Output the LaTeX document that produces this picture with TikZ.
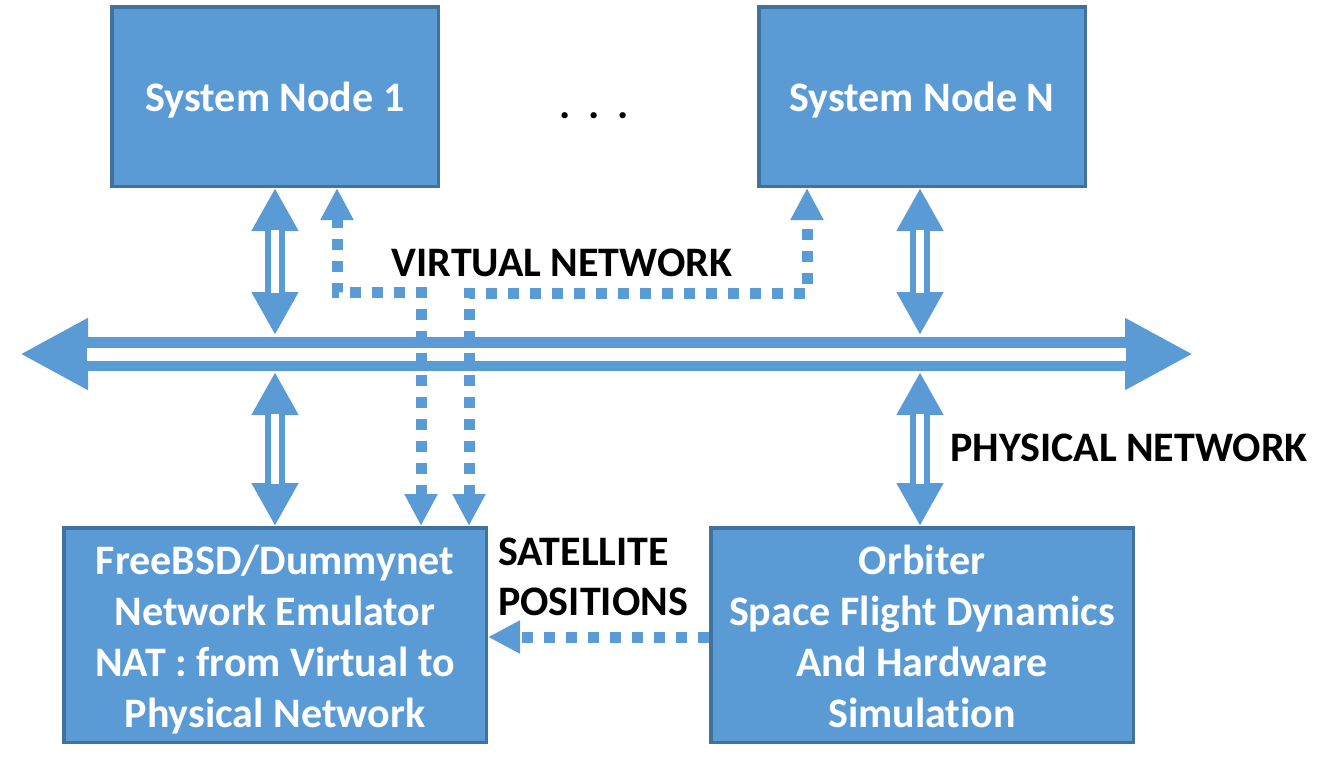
\documentclass[tikz,border=0pt]{standalone}
\usepackage{fontspec}
\setmainfont{Carlito}[Ligatures=NoCommon]
\usetikzlibrary{arrows.meta}
\definecolor{boxfill}{HTML}{5B9BD5}
\definecolor{boxline}{HTML}{41719C}
\newcommand{\boxtext}[2]{\raisebox{-#1}[\height][\depth]{\begin{tabular}{@{}c@{}}#2\end{tabular}}}
\begin{document}
\begin{tikzpicture}[x=1pt,y=-1pt,
  box/.style={draw=boxline, fill=boxfill, line width=3.5pt, text=white,
    font=\fontsize{42}{51}\selectfont\bfseries, align=center, inner sep=0pt},
  smallbox/.style={box, minimum width=326.5pt, minimum height=179.5pt},
  bigbox/.style={box, minimum width=422.5pt, minimum height=214.5pt},
  lbl/.style={font=\fontsize{42}{50}\selectfont\bfseries, text=black, inner sep=0pt},
  dbl/.style={draw=boxfill, line width=20pt,
    {Triangle[width=44pt,length=43pt]}-{Triangle[width=44pt,length=43pt]},
    postaction={draw=white, line width=8.6pt, arrows=-, shorten <=42pt, shorten >=42pt}},
  bus/.style={draw=boxfill, line width=34pt,
    {Triangle[width=67pt,length=68pt]}-{Triangle[width=67pt,length=68pt]},
    postaction={draw=white, line width=13pt, arrows=-, shorten <=67pt, shorten >=67pt}},
  dotted arrow/.style={draw=boxfill, line width=11pt, dash pattern=on 11pt off 11pt}
]
\useasboundingbox (0,0) rectangle (1321,756);

\node[smallbox] (sn1) at (275,96.5) {\boxtext{5pt}{System Node 1}};
\node[smallbox] (snN) at (922,96.5) {\boxtext{5pt}{System Node N}};
\node[bigbox] (fb) at (275,635) {\boxtext{6pt}{FreeBSD/Dummynet\\Network Emulator\\NAT : from Virtual to\\Physical Network}};
\node[bigbox] (orb) at (922,635) {\boxtext{6pt}{Orbiter\\Space Flight Dynamics\\And Hardware\\Simulation}};

\node[lbl] (dots) at (594,116) {.\hspace{0.42em}.\hspace{0.42em}.};

\coordinate (busL) at (20,354);
\coordinate (busR) at (1193,354);
\draw[bus] (busL) -- (busR);

\coordinate (bt) at (0,335);
\coordinate (bb) at (0,372);
\draw[dbl] (sn1.south) -- (sn1.south |- bt);
\draw[dbl] (sn1.south |- bb) -- (fb.north);
\draw[dbl] (snN.south -| 920,0) -- (920,0 |- bt);
\draw[dbl] (920,0 |- bb) -- (orb.north -| 920,0);

\draw[dotted arrow, {Triangle[width=31pt,length=32pt]}-{Triangle[width=31pt,length=32pt]}]
  (421,0 |- fb.north) -- (421,292) -- (337,292) -- (337,0 |- sn1.south);
\draw[dotted arrow, {Triangle[width=31pt,length=32pt]}-{Triangle[width=31pt,length=32pt]}]
  (469,0 |- fb.north) -- (469,293) -- (807,293) -- (807,0 |- snN.south);
\draw[dotted arrow, -{Triangle[width=31pt,length=32pt]}]
  (orb.west |- 0,637) -- (fb.east |- 0,637);

\node[lbl] (vn) at (562,263) {VIRTUAL NETWORK};
\node[lbl, anchor=west] (pn) at (950,448) {PHYSICAL NETWORK};
\node[lbl, anchor=west, align=left] (sp) at (498,577) {SATELLITE\\POSITIONS};
\end{tikzpicture}
\end{document}
